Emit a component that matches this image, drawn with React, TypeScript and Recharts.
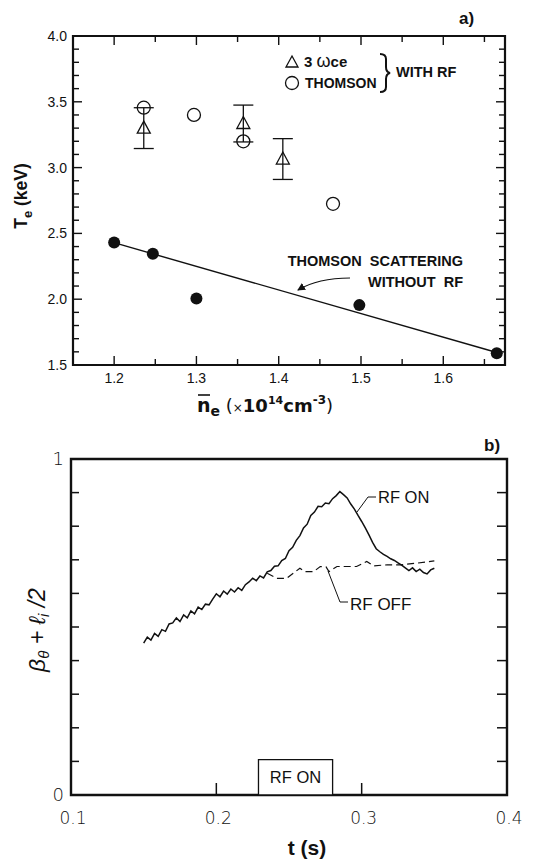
import React from 'react'
import { ScatterChart, Scatter, XAxis, YAxis, ErrorBar, ReferenceArea, LineChart, Line } from 'recharts'

// a) Te vs line-averaged density
const thomsonNoRf = [
  { x: 1.2, y: 2.43 },
  { x: 1.247, y: 2.345 },
  { x: 1.3, y: 2.005 },
  { x: 1.498, y: 1.955 },
  { x: 1.665, y: 1.59 },
]
const fitLine = [
  { x: 1.205, y: 2.42 },
  { x: 1.665, y: 1.595 },
]
const thomsonRf = [
  { x: 1.236, y: 3.455 },
  { x: 1.297, y: 3.4 },
  { x: 1.357, y: 3.2 },
  { x: 1.466, y: 2.725 },
]
const ece3 = [
  { x: 1.236, y: 3.3, err: 0.155 },
  { x: 1.357, y: 3.335, err: 0.14 },
  { x: 1.405, y: 3.065, err: 0.155 },
]
const xTicksA = [1.2, 1.25, 1.3, 1.35, 1.4, 1.45, 1.5, 1.55, 1.6, 1.65]
const xLabelsA = [1.2, 1.3, 1.4, 1.5, 1.6]
const yTicksA = [1.5, 1.6, 1.7, 1.8, 1.9, 2.0, 2.1, 2.2, 2.3, 2.4, 2.5, 2.6, 2.7, 2.8, 2.9, 3.0, 3.1, 3.2, 3.3, 3.4, 3.5, 3.6, 3.7, 3.8, 3.9, 4.0]
const yLabelsA = [1.5, 2.0, 2.5, 3.0, 3.5, 4.0]

// b) beta_theta + li/2 vs time
const rfOn = [
  { t: 0.15, v: 0.452 }, { t: 0.1525, v: 0.47 }, { t: 0.155, v: 0.461 }, { t: 0.1575, v: 0.481 },
  { t: 0.16, v: 0.472 }, { t: 0.1625, v: 0.492 }, { t: 0.165, v: 0.487 }, { t: 0.1675, v: 0.509 },
  { t: 0.17, v: 0.512 }, { t: 0.1725, v: 0.527 }, { t: 0.175, v: 0.516 }, { t: 0.1775, v: 0.536 },
  { t: 0.18, v: 0.527 }, { t: 0.1825, v: 0.548 }, { t: 0.185, v: 0.539 }, { t: 0.1875, v: 0.559 },
  { t: 0.19, v: 0.552 }, { t: 0.1925, v: 0.568 }, { t: 0.195, v: 0.566 }, { t: 0.1975, v: 0.583 },
  { t: 0.2, v: 0.599 }, { t: 0.2025, v: 0.59 }, { t: 0.205, v: 0.607 }, { t: 0.2075, v: 0.598 },
  { t: 0.21, v: 0.613 }, { t: 0.2125, v: 0.604 }, { t: 0.215, v: 0.617 }, { t: 0.2175, v: 0.609 },
  { t: 0.22, v: 0.626 }, { t: 0.2225, v: 0.634 }, { t: 0.225, v: 0.645 }, { t: 0.2275, v: 0.638 },
  { t: 0.23, v: 0.652 }, { t: 0.2325, v: 0.646 }, { t: 0.235, v: 0.664 }, { t: 0.2375, v: 0.668 },
  { t: 0.24, v: 0.681 }, { t: 0.2425, v: 0.682 }, { t: 0.245, v: 0.698 }, { t: 0.2475, v: 0.704 },
  { t: 0.25, v: 0.727 }, { t: 0.2525, v: 0.737 }, { t: 0.255, v: 0.758 }, { t: 0.2575, v: 0.772 },
  { t: 0.26, v: 0.795 }, { t: 0.2625, v: 0.806 }, { t: 0.265, v: 0.832 }, { t: 0.2675, v: 0.842 },
  { t: 0.27, v: 0.859 }, { t: 0.2725, v: 0.858 }, { t: 0.275, v: 0.869 }, { t: 0.2775, v: 0.867 },
  { t: 0.28, v: 0.882 }, { t: 0.2825, v: 0.891 }, { t: 0.285, v: 0.903 }, { t: 0.2875, v: 0.894 },
  { t: 0.29, v: 0.884 }, { t: 0.2925, v: 0.866 }, { t: 0.295, v: 0.851 }, { t: 0.2975, v: 0.832 },
  { t: 0.3, v: 0.814 }, { t: 0.3025, v: 0.795 }, { t: 0.305, v: 0.774 }, { t: 0.3075, v: 0.752 },
  { t: 0.31, v: 0.733 }, { t: 0.3125, v: 0.724 }, { t: 0.315, v: 0.716 }, { t: 0.3175, v: 0.71 },
  { t: 0.32, v: 0.703 }, { t: 0.3225, v: 0.698 }, { t: 0.325, v: 0.691 }, { t: 0.3275, v: 0.684 },
  { t: 0.33, v: 0.676 }, { t: 0.3325, v: 0.668 }, { t: 0.335, v: 0.676 }, { t: 0.3375, v: 0.665 },
  { t: 0.34, v: 0.672 }, { t: 0.3425, v: 0.662 }, { t: 0.345, v: 0.658 }, { t: 0.3475, v: 0.67 },
  { t: 0.35, v: 0.675 },
]
const rfOff = [
  { t: 0.235, v: 0.66 }, { t: 0.2415, v: 0.645 }, { t: 0.2485, v: 0.645 }, { t: 0.253, v: 0.66 },
  { t: 0.2575, v: 0.675 }, { t: 0.261, v: 0.665 }, { t: 0.267, v: 0.665 }, { t: 0.2715, v: 0.68 },
  { t: 0.2755, v: 0.679 }, { t: 0.2775, v: 0.665 }, { t: 0.283, v: 0.68 }, { t: 0.29, v: 0.68 },
  { t: 0.2965, v: 0.68 }, { t: 0.3035, v: 0.695 }, { t: 0.308, v: 0.682 }, { t: 0.3175, v: 0.685 },
  { t: 0.3265, v: 0.685 }, { t: 0.338, v: 0.69 }, { t: 0.35, v: 0.697 },
]
const xTicksB = [0.1, 0.2, 0.3, 0.4]
const xTickLinesB = [0.2, 0.3]
const yTicksB = [0, 0.1, 0.2, 0.3, 0.4, 0.5, 0.6, 0.7, 0.8, 0.9, 1]
const yLabelsB = [0, 1]
const rfWindow = { from: 0.229, to: 0.28, height: 0.105 }

const sans = '"Liberation Sans", Arial, sans-serif'
const wide = '"DejaVu Sans", sans-serif'
const ink = '#111'

const HA = 329 // plot a height
const WA = 432 // plot a width
const WB = 436

function XTickA({ x, y, payload }: any) {
  const v = payload.value
  const major = xLabelsA.includes(v)
  const len = major ? 9 : 6
  return (
    <g>
      <line x1={x} x2={x} y1={y} y2={y - len} stroke={ink} strokeWidth={1.4} />
      <line x1={x} x2={x} y1={y - HA} y2={y - HA + len} stroke={ink} strokeWidth={1.4} />
      {major && (
        <text x={x} y={y + 18} textAnchor="middle" fontFamily={sans} fontSize={14} fill={ink}>
          {v.toFixed(1)}
        </text>
      )}
    </g>
  )
}

function YTickA({ x, y, payload }: any) {
  const v = payload.value
  const major = yLabelsA.includes(v)
  const len = major ? 9 : 6
  return (
    <g>
      <line x1={x} x2={x + len} y1={y} y2={y} stroke={ink} strokeWidth={1.4} />
      <line x1={x + WA} x2={x + WA - len} y1={y} y2={y} stroke={ink} strokeWidth={1.4} />
      {major && (
        <text x={x - 6} y={y + 5} textAnchor="end" fontFamily={sans} fontSize={14} fill={ink}>
          {v.toFixed(1)}
        </text>
      )}
    </g>
  )
}

function XTickB({ x, y, payload }: any) {
  const v = payload.value
  return (
    <g>
      {xTickLinesB.includes(v) && <line x1={x} x2={x} y1={y} y2={y - 12} stroke={ink} strokeWidth={1.5} />}
      <text x={x + 2} y={y + 29} textAnchor="middle" fontFamily={wide} fontWeight={200} fontSize={17} fill={ink}>
        {v.toFixed(1)}
      </text>
    </g>
  )
}

function YTickB({ x, y, payload }: any) {
  const v = payload.value
  const edge = v === 0 || v === 1
  return (
    <g>
      {!edge && <line x1={x} x2={x + 8} y1={y} y2={y} stroke={ink} strokeWidth={1.5} />}
      {!edge && <line x1={x + WB} x2={x + WB - 10} y1={y} y2={y} stroke={ink} strokeWidth={1.5} />}
      {yLabelsB.includes(v) && (
        <text x={x - 7} y={y + 6} textAnchor="end" fontFamily={wide} fontWeight={200} fontSize={18} fill={ink}>
          {String(v)}
        </text>
      )}
    </g>
  )
}

const FilledDot = ({ cx, cy }: any) => <circle cx={cx} cy={cy} r={6} fill={ink} />
const OpenDot = ({ cx, cy }: any) => <circle cx={cx} cy={cy} r={6.5} fill="none" stroke={ink} strokeWidth={1.3} />
const OpenTriangle = ({ cx, cy }: any) => (
  <polygon points={`${cx},${cy - 7} ${cx + 6.5},${cy + 5} ${cx - 6.5},${cy + 5}`} fill="none" stroke={ink} strokeWidth={1.3} />
)
const NoShape = () => <g />

function Overlay() {
  const t = { fontFamily: sans, fill: ink }
  return (
    <svg width={547} height={859} style={{ position: 'absolute', left: 0, top: 0, pointerEvents: 'none' }}>
      <defs>
        <marker id="ah" markerWidth="8" markerHeight="8" refX="7" refY="4" orient="auto" markerUnits="userSpaceOnUse">
          <path d="M0,0 L8,4 L0,8 z" fill={ink} />
        </marker>
      </defs>
      {/* panel a */}
      <text x={459} y={24} {...t} fontSize={17} fontWeight={700}>a)</text>
      <polygon points="292,56 298,67 286,67" fill="none" stroke={ink} strokeWidth={1.3} />
      <text x={304} y={67} {...t} fontSize={15} fontWeight={700}>3 <tspan fontSize={18} fontWeight={400}>ω</tspan>ce</text>
      <circle cx={292} cy={83} r={6.5} fill="none" stroke={ink} strokeWidth={1.3} />
      <text x={305} y={88} {...t} fontSize={14} fontWeight={700}>THOMSON</text>
      <path d="M380,54 q6,0 6,5 v8 q0,5 4,6 q-4,1 -4,6 v8 q0,5 -6,5" fill="none" stroke={ink} strokeWidth={2} />
      <text x={396} y={77} {...t} fontSize={14.5} fontWeight={700}>WITH RF</text>
      <text x={463} y={266} {...t} fontSize={14.5} fontWeight={700} textAnchor="end" style={{ whiteSpace: 'pre' }}>THOMSON  SCATTERING</text>
      <text x={463} y={287} {...t} fontSize={14.5} fontWeight={700} textAnchor="end" style={{ whiteSpace: 'pre' }}>WITHOUT  RF</text>
      <path d="M350,278 Q318,278 298,290" fill="none" stroke={ink} strokeWidth={1.2} markerEnd="url(#ah)" />
      <text transform="translate(27,196) rotate(-90)" textAnchor="middle" {...t} fontSize={17.5} fontWeight={700}>
        T<tspan fontSize={13} dy={5}>e</tspan><tspan dy={-5}> (keV)</tspan>
      </text>
      <line x1={198} x2={210} y1={395} y2={395} stroke={ink} strokeWidth={1.6} />
      <text x={197} y={412} fontFamily={wide} fill={ink} fontSize={19} fontWeight={700}>
        n<tspan fontSize={14} dy={4}>e</tspan>
        <tspan dy={-4} fontSize={18} fontWeight={400}> (</tspan>
        <tspan fontSize={12} fontWeight={400}>×</tspan>
        <tspan fontSize={18}>10</tspan>
        <tspan fontSize={11} dy={-8}>14</tspan>
        <tspan fontSize={18} dy={8}>cm</tspan>
        <tspan fontSize={12} dy={-8}>-3</tspan>
        <tspan fontSize={18} dy={8} fontWeight={400}>)</tspan>
      </text>
      {/* panel b */}
      <text x={484} y={451} {...t} fontSize={17} fontWeight={700}>b)</text>
      <text x={378} y={503} {...t} fontSize={16.5}>RF ON</text>
      <polyline points="357,512 368,497 376,497" fill="none" stroke={ink} strokeWidth={1} />
      <text x={350} y={610} {...t} fontSize={17}>RF OFF</text>
      <polyline points="328,571 340,602 348,602" fill="none" stroke={ink} strokeWidth={1} />
      <text transform="translate(45,630) rotate(-90)" textAnchor="middle" {...t} fontSize={23} fontStyle="italic">
        β<tspan fontSize={15} dy={4}>θ</tspan><tspan dy={-4}> + ℓ</tspan><tspan fontSize={15} dy={4}>i</tspan><tspan dy={-4}> /2</tspan>
      </text>
      <text x={307} y={855} textAnchor="middle" {...t} fontSize={21} fontWeight={700}>t (s)</text>
    </svg>
  )
}

export default function App() {
  return (
    <div style={{ position: 'absolute', left: 0, top: 0, width: 547, height: 859, background: '#fff' }}>
      <div style={{ position: 'absolute', left: 0, top: 0 }}>
        <ScatterChart width={547} height={420} margin={{ top: 36, right: 42, bottom: 25, left: 33 }}>
          <XAxis type="number" dataKey="x" domain={[1.15, 1.675]} allowDataOverflow ticks={xTicksA} interval={0}
            height={30} tickSize={0} tickMargin={0} axisLine={false} tickLine={false} tick={<XTickA />} />
          <YAxis type="number" dataKey="y" domain={[1.5, 4.0]} allowDataOverflow ticks={yTicksA} interval={0}
            width={40} tickSize={0} tickMargin={0} axisLine={false} tickLine={false} tick={<YTickA />} />
          <ReferenceArea x1={1.15} x2={1.675} y1={1.5} y2={4.0} fill="none" stroke={ink} strokeWidth={2.2} ifOverflow="visible" />
          <Scatter data={fitLine} line={{ stroke: ink, strokeWidth: 1.4 }} shape={<NoShape />} isAnimationActive={false} />
          <Scatter data={thomsonNoRf} shape={<FilledDot />} isAnimationActive={false} />
          <Scatter data={thomsonRf} shape={<OpenDot />} isAnimationActive={false} />
          <Scatter data={ece3} shape={<OpenTriangle />} isAnimationActive={false}>
            <ErrorBar dataKey="err" direction="y" width={10} stroke={ink} strokeWidth={1.3} />
          </Scatter>
        </ScatterChart>
      </div>
      <div style={{ position: 'absolute', left: 0, top: 420 }}>
        <LineChart width={547} height={439} margin={{ top: 39, right: 40, bottom: 34, left: 31 }}>
          <XAxis type="number" dataKey="t" domain={[0.1, 0.4]} allowDataOverflow ticks={xTicksB} interval={0}
            height={30} tickSize={0} tickMargin={0} axisLine={false} tickLine={false} tick={<XTickB />} />
          <YAxis type="number" domain={[0, 1]} allowDataOverflow ticks={yTicksB} interval={0}
            width={40} tickSize={0} tickMargin={0} axisLine={false} tickLine={false} tick={<YTickB />} />
          <ReferenceArea x1={0.1} x2={0.4} y1={0} y2={1} fill="none" stroke={ink} strokeWidth={2.4} ifOverflow="visible" />
          <ReferenceArea x1={rfWindow.from} x2={rfWindow.to} y1={0} y2={rfWindow.height} fill="#fff" fillOpacity={1}
            stroke={ink} strokeWidth={1.3} ifOverflow="visible"
            label={{ value: 'RF ON', position: 'center', fontFamily: sans, fontSize: 16.5, fill: ink }} />
          <Line data={rfOff} dataKey="v" type="linear" dot={false} stroke={ink} strokeWidth={1.2} strokeDasharray="7 4" isAnimationActive={false} />
          <Line data={rfOn} dataKey="v" type="linear" dot={false} stroke={ink} strokeWidth={1.5} isAnimationActive={false} />
        </LineChart>
      </div>
      <Overlay />
    </div>
  )
}
